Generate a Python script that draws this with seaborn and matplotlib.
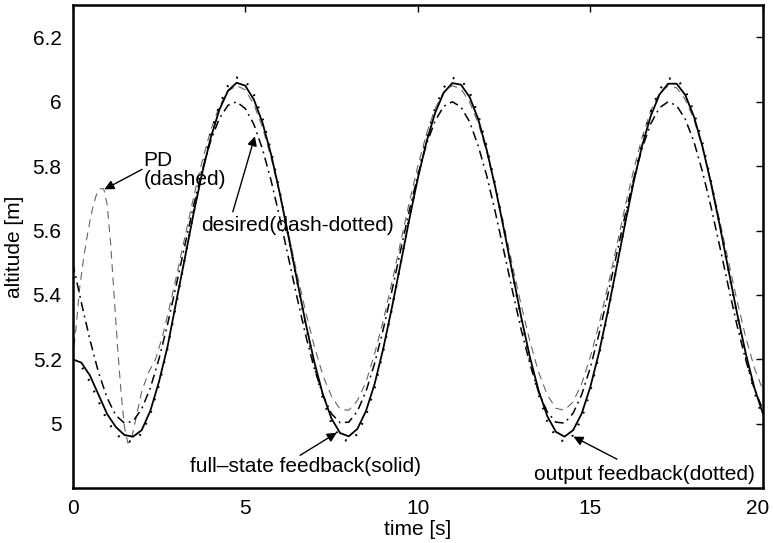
import numpy as np
import matplotlib
matplotlib.use('Agg')
import matplotlib.pyplot as plt
import matplotlib.transforms as mtransforms
import seaborn as sns

# time grid shared by desired / full-state / output feedback
time = [0.0, 0.25, 0.5, 0.75, 1.0, 1.25, 1.5, 1.75, 2.0, 2.25, 2.5, 2.75,
        3.0, 3.25, 3.5, 3.75, 4.0, 4.25, 4.5, 4.75, 5.0, 5.25, 5.5, 5.75,
        6.0, 6.25, 6.5, 6.75, 7.0, 7.25, 7.5, 7.75, 8.0, 8.25, 8.5, 8.75,
        9.0, 9.25, 9.5, 9.75, 10.0, 10.25, 10.5, 10.75, 11.0, 11.25, 11.5, 11.75,
        12.0, 12.25, 12.5, 12.75, 13.0, 13.25, 13.5, 13.75, 14.0, 14.25, 14.5, 14.75,
        15.0, 15.25, 15.5, 15.75, 16.0, 16.25, 16.5, 16.75, 17.0, 17.25, 17.5, 17.75,
        18.0, 18.25, 18.5, 18.75, 19.0, 19.25, 19.5, 19.75, 20.0]

desired = [5.500, 5.377, 5.261, 5.159, 5.080, 5.026, 5.002, 5.008, 5.046, 5.111, 5.201, 5.309,
           5.430, 5.554, 5.676, 5.786, 5.879, 5.948, 5.989, 6.000, 5.979, 5.930, 5.853, 5.755,
           5.640, 5.517, 5.393, 5.275, 5.172, 5.089, 5.031, 5.003, 5.005, 5.039, 5.101, 5.188,
           5.294, 5.413, 5.538, 5.660, 5.772, 5.868, 5.940, 5.986, 6.000, 5.984, 5.938, 5.863,
           5.769, 5.655, 5.533, 5.409, 5.290, 5.185, 5.098, 5.037, 5.005, 5.002, 5.033, 5.091,
           5.175, 5.279, 5.397, 5.521, 5.644, 5.759, 5.856, 5.932, 5.981, 6.000, 5.988, 5.946,
           5.876, 5.782, 5.671, 5.550, 5.425, 5.305, 5.198, 5.108, 5.044]

full_state = [5.200, 5.190, 5.150, 5.090, 5.030, 4.990, 4.965, 4.960, 4.980, 5.040, 5.130, 5.240,
              5.379, 5.514, 5.651, 5.778, 5.888, 5.975, 6.034, 6.059, 6.050, 6.007, 5.935, 5.836,
              5.716, 5.583, 5.446, 5.313, 5.192, 5.091, 5.016, 4.971, 4.961, 4.984, 5.040, 5.124,
              5.234, 5.361, 5.496, 5.633, 5.762, 5.875, 5.965, 6.028, 6.058, 6.053, 6.015, 5.946,
              5.849, 5.732, 5.601, 5.464, 5.329, 5.206, 5.103, 5.024, 4.975, 4.960, 4.980, 5.032,
              5.115, 5.221, 5.346, 5.481, 5.618, 5.749, 5.864, 5.956, 6.022, 6.056, 6.056, 6.021,
              5.954, 5.860, 5.744, 5.615, 5.478, 5.343, 5.219, 5.112, 5.031]

output_fb = [5.200, 5.180, 5.130, 5.070, 5.010, 4.970, 4.945, 4.945, 4.970, 5.030, 5.120, 5.235,
             5.370, 5.514, 5.655, 5.786, 5.899, 5.989, 6.050, 6.075, 6.066, 6.022, 5.948, 5.846,
             5.722, 5.585, 5.444, 5.307, 5.182, 5.078, 5.001, 4.955, 4.945, 4.968, 5.026, 5.112,
             5.226, 5.357, 5.496, 5.637, 5.770, 5.886, 5.979, 6.044, 6.074, 6.069, 6.030, 5.959,
             5.859, 5.739, 5.604, 5.463, 5.324, 5.197, 5.091, 5.009, 4.959, 4.943, 4.964, 5.018,
             5.103, 5.212, 5.341, 5.480, 5.621, 5.756, 5.875, 5.969, 6.037, 6.072, 6.072, 6.036,
             5.967, 5.871, 5.751, 5.618, 5.477, 5.338, 5.210, 5.100, 5.017]

# PD has a fast transient at the start, so it gets its own finer time list
pd_time = [0.0, 0.1, 0.2, 0.3, 0.4, 0.5, 0.6, 0.7, 0.8, 0.9, 1.0, 1.1, 1.2, 1.3, 1.4,
           1.5, 1.6, 1.7, 1.8, 1.9, 2.0, 2.2, 2.4, 2.6, 2.8, 3.0] + time[13:]
pd_alt = [5.20, 5.30, 5.42, 5.50, 5.57, 5.63, 5.68, 5.715, 5.73, 5.73, 5.68, 5.56, 5.40, 5.24, 5.10,
          4.99, 4.94, 4.95, 5.00, 5.05, 5.10, 5.16, 5.20, 5.27, 5.36, 5.455,
          5.579, 5.702, 5.815, 5.912, 5.986, 6.033, 6.050, 6.037, 5.992, 5.920, 5.826,
          5.714, 5.592, 5.467, 5.348, 5.241, 5.150, 5.085, 5.045, 5.042, 5.072, 5.130, 5.218,
          5.321, 5.439, 5.563, 5.686, 5.800, 5.900, 5.979, 6.030, 6.050, 6.040, 5.999, 5.934,
          5.842, 5.732, 5.613, 5.488, 5.366, 5.255, 5.160, 5.090, 5.048, 5.042, 5.068, 5.125,
          5.208, 5.309, 5.424, 5.546, 5.671, 5.787, 5.890, 5.973, 6.026, 6.049, 6.043, 6.007,
          5.945, 5.857, 5.749, 5.629, 5.505, 5.382, 5.269, 5.174, 5.104]

x_ticks = [0, 5, 10, 15, 20]
y_ticks = [5.0, 5.2, 5.4, 5.6, 5.8, 6.0, 6.2]
y_tick_labels = ['5', '5.2', '5.4', '5.6', '5.8', '6', '6.2']

sns.set_style('white')
plt.rcParams['font.family'] = ['Liberation Sans', 'DejaVu Sans']
plt.rcParams['text.color'] = 'k'
plt.rcParams['axes.labelcolor'] = 'k'
fs = 15

fig = plt.figure(figsize=(7.73, 5.43), dpi=100)
ax = fig.add_axes([0.094, 0.101, 0.893, 0.8895])

sns.lineplot(x=pd_time, y=pd_alt, ax=ax, color='0.4', lw=0.8,
             linestyle=(0, (7, 5)), sort=False, estimator=None)
sns.lineplot(x=time, y=desired, ax=ax, color='k', lw=1.1,
             linestyle=(0, (6, 3, 1.2, 3)), sort=False, estimator=None)
sns.lineplot(x=time, y=full_state, ax=ax, color='k', lw=1.3,
             sort=False, estimator=None)
sns.lineplot(x=time, y=output_fb, ax=ax, color='k', lw=1.6,
             linestyle=(0, (0.8, 5)), sort=False, estimator=None)

arrow = dict(arrowstyle='-|>', color='k', lw=1.0, mutation_scale=14,
             shrinkA=0, shrinkB=0)
ax.annotate('', xy=(0.92, 5.728), xytext=(2.01, 5.79), arrowprops=arrow)
ax.text(2.05, 5.787, 'PD\n(dashed)', ha='left', va='center', linespacing=1.0, fontsize=fs)

ax.annotate('', xy=(5.28, 5.893), xytext=(4.64, 5.658), arrowprops=arrow)
ax.text(3.71, 5.615, 'desired(dash-dotted)', ha='left', va='center', fontsize=fs)

ax.annotate('', xy=(7.65, 4.972), xytext=(6.59, 4.902), arrowprops=arrow)
ax.text(3.40, 4.868, 'full\u2013state feedback(solid)', ha='left', va='center', fontsize=fs)

ax.annotate('', xy=(14.51, 4.96), xytext=(15.77, 4.89), arrowprops=arrow)
ax.text(13.37, 4.843, 'output feedback(dotted)', ha='left', va='center', fontsize=fs)

ax.set_xlim(0, 20)
ax.set_ylim(4.8, 6.3)
ax.set_xticks(x_ticks)
ax.set_xticklabels([str(t) for t in x_ticks])
ax.set_yticks(y_ticks)
ax.set_yticklabels(y_tick_labels)
ax.tick_params(direction='in', top=True, right=True, length=5, width=1,
               labelsize=fs, pad=8, colors='k')
ax.set_xlabel('time [s]', fontsize=fs, labelpad=1)
ax.set_ylabel('altitude [m]', fontsize=fs, labelpad=6)
for side in ax.spines.values():
    side.set_color('k')
    side.set_linewidth(1.8)

# nudge the last x label so it stays inside the canvas
last = ax.get_xticklabels()[-1]
last.set_transform(last.get_transform() +
                   mtransforms.ScaledTranslation(-5 / 100, 0, fig.dpi_scale_trans))

fig.savefig('out.png', dpi=100)
